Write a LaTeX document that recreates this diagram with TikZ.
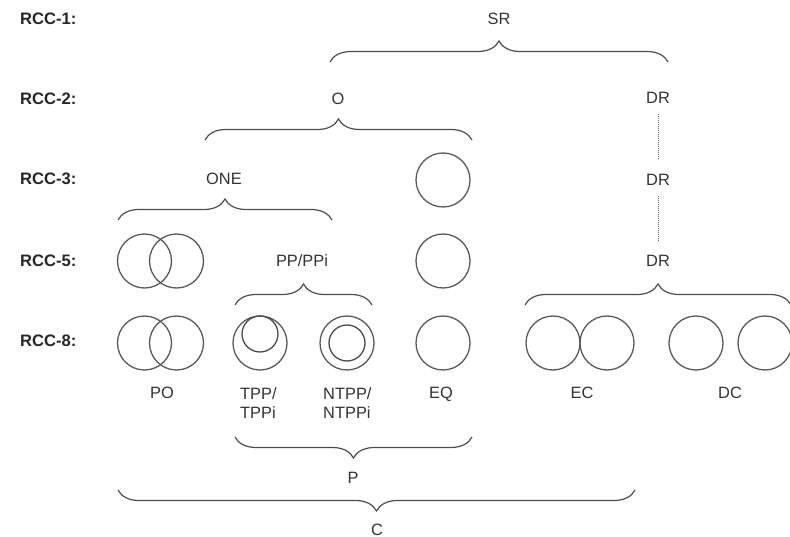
\documentclass[tikz,border=0pt]{standalone}
\usepackage{fontspec}
\setmainfont{Liberation Sans}
\usetikzlibrary{decorations.pathreplacing}
\begin{document}
\begin{tikzpicture}[x=1pt,y=-1pt,
  lbl/.style={anchor=base west,inner sep=0pt,font=\fontsize{16.6}{19.5}\selectfont\bfseries,text=black!85},
  rel/.style={anchor=base,inner sep=2pt,font=\fontsize{16.4}{19.5}\selectfont,text=black!80},
  ring/.style={circle,draw=black!65,line width=1.3pt,inner sep=0pt,minimum size=54pt},
  iring/.style={circle,draw=black!70,line width=1.3pt,inner sep=0pt,minimum size=36pt},
  brc/.style={draw=black!70,line width=1.2pt,decorate,decoration={brace,amplitude=21pt}},
  dots/.style={draw=black!60,line width=1pt,dash pattern=on 1pt off 1pt}]
\useasboundingbox (0,0) rectangle (790,537);
% level labels
\node[lbl] (l1) at (20,25) {RCC-1:};
\node[lbl] (l2) at (20,105) {RCC-2:};
\node[lbl] (l3) at (20,185) {RCC-3:};
\node[lbl] (l5) at (20,267) {RCC-5:};
\node[lbl] (l8) at (20,347) {RCC-8:};
% relation names
\node[rel] (sr) at (499,25) {SR};
\node[rel] (o) at (338,105) {O};
\node[rel] (dr2) at (658,104) {DR};
\node[rel] (one) at (224,185) {ONE};
\node[rel] (dr3) at (658,186) {DR};
\node[rel] (pp) at (302,267) {PP/PPi};
\node[rel] (dr5) at (658,267) {DR};
\node[rel] (po) at (162,399) {PO};
\node[rel,anchor=north west,align=left,inner sep=0pt] (tpp) at (240,387) {TPP/\\TPPi};
\node[rel,anchor=north west,align=left,inner sep=0pt] (ntpp) at (323,387) {NTPP/\\NTPPi};
\node[rel] (eq) at (441,399) {EQ};
\node[rel] (ec) at (582,399) {EC};
\node[rel] (dc) at (730,399) {DC};
\node[rel] (p) at (353,483) {P};
\node[rel] (c) at (377,535) {C};
% dotted links
\draw[dots,shorten <=8pt,shorten >=13pt] (dr2) -- (dr3);
\draw[dots,shorten <=8pt,shorten >=13pt] (dr3) -- (dr5);
% circles
\node[ring] (eq3) at (443,180) {};
\node[ring] (eq5) at (443,261) {};
\node[ring] (eq8) at (443,343) {};
\node[ring] (po5a) at (144.5,261) {};
\node[ring] (po5b) at (176.5,261) {};
\node[ring] (po8a) at (144.5,343) {};
\node[ring] (po8b) at (176.5,343) {};
\node[ring] (tppo) at (260,343) {};
\node[iring] (tppi) at (260,334) {};
\node[ring] (ntppo) at (347,343) {};
\node[iring] (ntppi) at (347,343) {};
\node[ring] (eca) at (553,343) {};
\node[ring] (ecb) at (607,343) {};
\node[ring] (dca) at (696,343) {};
\node[ring] (dcb) at (765,343) {};
% brace end points
\coordinate (srL) at (330,62);  \coordinate (srR) at (668,62);
\coordinate (oL) at (205,140);  \coordinate (oR) at (472,140);
\coordinate (oneL) at (118,220); \coordinate (oneR) at (332,220);
\coordinate (ppL) at (235,305); \coordinate (ppR) at (372,305);
\coordinate (drL) at (525,305); \coordinate (drR) at (791,305);
\coordinate (pL) at (235,437);  \coordinate (pR) at (472,437);
\coordinate (cL) at (118,490);  \coordinate (cR) at (635,490);
% braces
\draw[brc] (srL) -- (srR);
\draw[brc] (oL) -- (oR);
\draw[brc] (oneL) -- (oneR);
\draw[brc] (ppL) -- (ppR);
\draw[brc] (drL) -- (drR);
\draw[brc] (pR) -- (pL);
\draw[brc] (cR) -- (cL);
\end{tikzpicture}
\end{document}
